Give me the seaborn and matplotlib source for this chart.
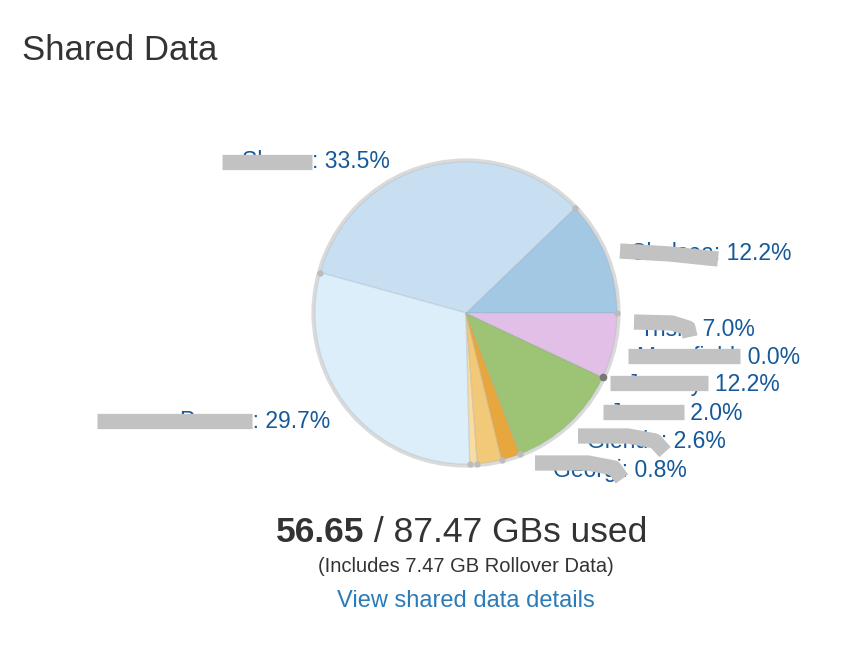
import numpy as np
import matplotlib
matplotlib.use("Agg")
import matplotlib.pyplot as plt
import seaborn as sns

sns.set_theme(style="white")
plt.rcParams['font.family'] = ['Liberation Sans', 'DejaVu Sans']

# data
names = ['Chelsea', 'Shawn', 'Person', 'Georgi', 'Glenda', 'James', 'Jeremy', 'Mansfield', 'Trish']
shares = [12.2, 33.5, 29.7, 0.8, 2.6, 2.0, 12.2, 0.0, 7.0]
colors = ['#a3c8e4', '#c8dff2', '#ddeefb', '#f8dca2', '#f2c879', '#e8a73c', '#9cc474', '#cccccc', '#e2bfe6']
used_gb = '56.65'
total_gb = '87.47'
rollover_gb = '7.47'

# label anchors (right end of text, pixel coords)
label_pos = {
    'Chelsea': (792, 254), 'Shawn': (390, 162), 'Person': (330, 421),
    'Georgi': (687, 470), 'Glenda': (726, 441), 'James': (743, 413),
    'Jeremy': (780, 385), 'Mansfield': (800, 357), 'Trish': (755, 329),
}
cx, cy, r = 466, 313, 151

fig = plt.figure(figsize=(8.62, 6.5), dpi=100)
ax = fig.add_axes([0, 0, 1, 1])
ax.set_aspect('equal')
ax.axis('off')

# soft outer ring
ax.add_patch(plt.Circle((cx, cy), r + 1.5, fill=False, ec='#dadada', lw=3, zorder=1))
wedges, _ = ax.pie(shares, colors=colors, center=(cx, cy), radius=r, startangle=0,
                   counterclock=False, wedgeprops=dict(edgecolor=(0.55, 0.6, 0.65, 0.18), linewidth=1))
for w in wedges:
    w.set_zorder(2)
ax.set_xlim(0, 862)
ax.set_ylim(650, 0)

# little rim dots at slice boundaries
bounds = np.cumsum([0] + shares[:-1]) / 100 * 2 * np.pi
ax.plot(cx + r * np.cos(bounds), cy - r * np.sin(bounds), 'o', ms=3.5, color='#bcbcbc', zorder=3)
mi = names.index('Mansfield')
ax.plot(cx + r * np.cos(bounds[mi]), cy - r * np.sin(bounds[mi]), 'o', ms=4.5, color='#777777', zorder=3)

for n, s in zip(names, shares):
    x, y = label_pos[n]
    ax.text(x, y, f'{n}: {s:.1f}%', ha='right', va='center', fontsize=16.5, color='#15599a', zorder=4)

# redaction marks over the names
bar = '#c2c2c2'
for xs, ys in [
    ([222, 312], [162, 162]),
    ([97, 252], [421, 421]),
    ([628, 740], [356, 356]),
    ([610, 708], [383, 383]),
    ([603, 684], [412, 412]),
    ([620, 670, 718], [251, 254, 259]),
    ([634, 672, 688, 690], [322, 323, 328, 337]),
    ([578, 628, 655, 665], [436, 436, 441, 452]),
    ([535, 588, 614, 622], [463, 463, 468, 479]),
]:
    ax.plot(xs, ys, color=bar, lw=11, solid_capstyle='butt', solid_joinstyle='round', zorder=5)

ax.text(22, 50, 'Shared Data', fontsize=25, color='#333333', va='center', ha='left')

# headline: bold used amount followed by regular text
fig.canvas.draw()
renderer = fig.canvas.get_renderer()
t1 = ax.text(276, 533, used_gb, fontsize=25.5, fontweight='bold', color='#333333', va='center', ha='left')
bb = t1.get_window_extent(renderer=renderer)
x_end = ax.transData.inverted().transform((bb.x1, bb.y0))[0]
ax.text(x_end, 533, f' / {total_gb} GBs used', fontsize=25.5, color='#333333', va='center', ha='left')

ax.text(466, 566, f'(Includes {rollover_gb} GB Rollover Data)', fontsize=14.5, color='#333333', va='center', ha='center')
ax.text(466, 601, 'View shared data details', fontsize=17, color='#2a7bb9', va='center', ha='center')

fig.savefig('out.png', dpi=100)
